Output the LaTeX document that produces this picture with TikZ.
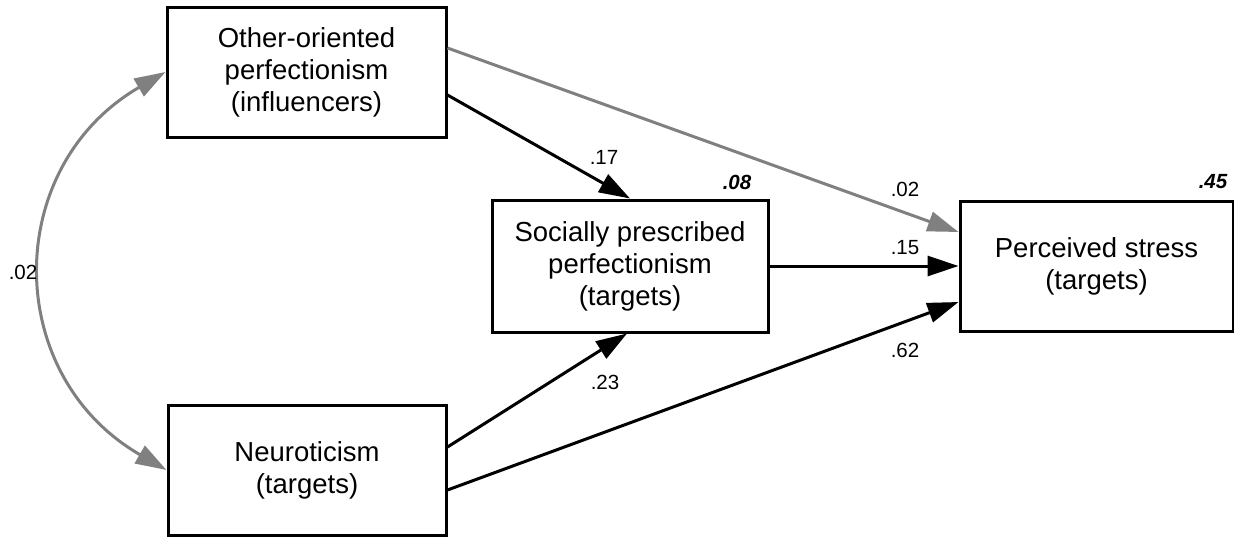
\documentclass[tikz,border=0pt]{standalone}
\usepackage{fontspec}
\setmainfont{Liberation Sans}
\usetikzlibrary{arrows.meta}
\definecolor{lgray}{HTML}{808080}
\tikzset{
  box/.style={draw=black, line width=3pt, rectangle, align=center, inner sep=0pt,
    font=\fontsize{27.5}{32}\selectfont},
  coef/.style={font=\fontsize{20.5}{24}\selectfont, inner sep=0pt},
  rsq/.style={font=\fontsize{20.5}{24}\selectfont\bfseries\itshape, inner sep=0pt},
  tip/.style={Triangle[length=31pt,width=20pt]},
  arr/.style={line width=3pt, -{Triangle[length=31pt,width=20pt]}},
  garr/.style={line width=3pt, draw=lgray, -{Triangle[length=31pt,width=20pt]}},
}
\begin{document}
\begin{tikzpicture}[x=1pt,y=-1pt]
\useasboundingbox (0,0) rectangle (1234,538);
\node[box, minimum width=279pt, minimum height=130pt] (oo) at (306.5,72) {Other-oriented\\perfectionism\\(influencers)};
\node[box, minimum width=276pt, minimum height=132pt] (spp) at (630,266) {Socially prescribed\\perfectionism\\(targets)};
\node[box, minimum width=273pt, minimum height=130pt] (ps) at (1096.5,266) {Perceived stress\\(targets)};
\node[box, minimum width=278pt, minimum height=130pt] (n) at (307,470) {Neuroticism\\(targets)};

\draw[garr] ([yshift=24pt]oo.east) -- ([yshift=34pt]ps.west);
\draw[arr] ([yshift=-23pt]oo.east) -- (spp.north);
\draw[arr] (spp.east) -- (ps.west);
\draw[arr] ([yshift=23pt]n.east) -- ([xshift=-3pt]spp.south);
\draw[arr] ([yshift=-20pt]n.east) -- ([yshift=-36pt]ps.west);
\draw[line width=3pt, draw=lgray, {Triangle[length=31pt,width=20pt]}-{Triangle[length=31pt,width=20pt]}]
  (oo.west) .. controls (2,167) and (2,375) .. (n.west);

\node[coef] (l1) at (604,157) {.17};
\node[coef] (l2) at (905,189) {.02};
\node[coef] (l3) at (905,248) {.15};
\node[coef] (l4) at (905,350) {.62};
\node[coef] (l5) at (605,382) {.23};
\node[coef] (l6) at (23,272) {.02};
\node[rsq] (r1) at (737,182) {.08};
\node[rsq] (r2) at (1213,182) {.45};
\end{tikzpicture}
\end{document}
